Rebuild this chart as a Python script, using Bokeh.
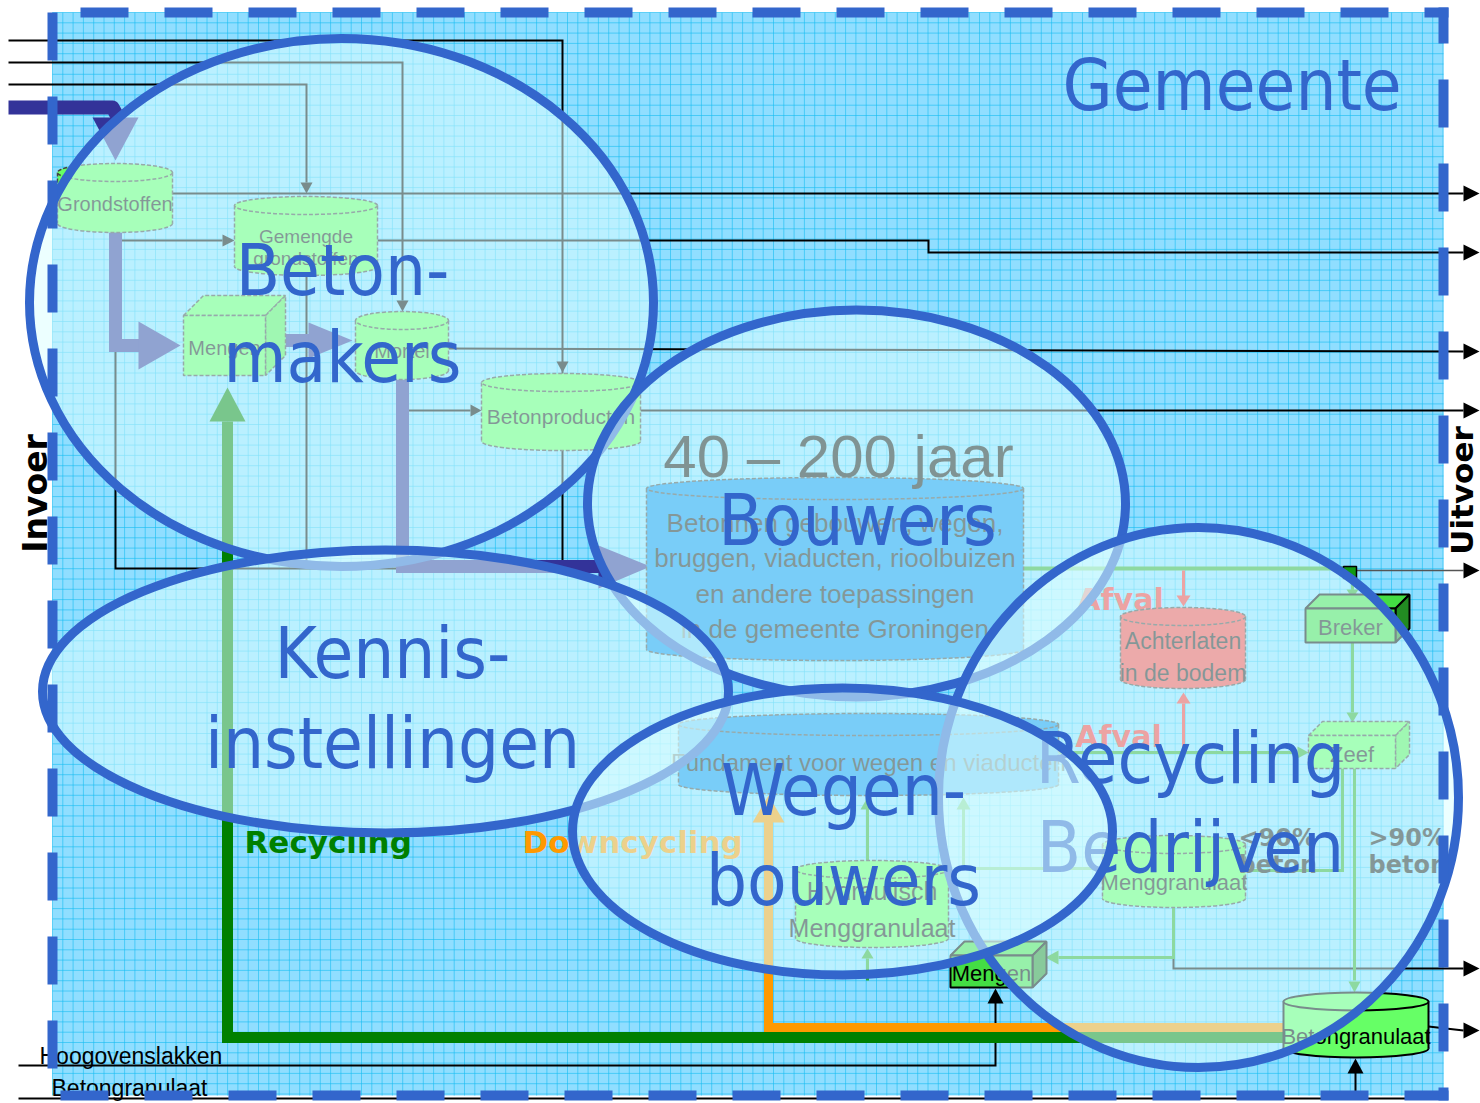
import numpy as np
from bokeh.plotting import figure
from bokeh.models import Range1d
from bokeh.core.properties import value
from bokeh.embed import file_html
from bokeh.resources import INLINE

# ---------------- content ----------------
TITLE = "Gemeente"
SIDE_LABELS = ["Invoer", "Uitvoer"]
FLOW_LABELS = ["Recycling", "Downcycling"]
INPUT_LABELS = ["Hoogovenslakken", "Betongranulaat"]
PERIOD_LABEL = "40 \u2013 200 jaar"

# actor ellipses (drawn in this order, last on top)
GROUP_LINES = [["Beton-", "makers"], ["Bouwers"], ["Kennis-", "instellingen"],
               ["Recycling", "Bedrijven"], ["Wegen-", "bouwers"]]
GROUP_CX = [341, 856, 385, 1198, 842]
GROUP_CY = [302, 503, 691, 797, 831]
GROUP_W = [624, 538, 686, 520, 540]
GROUP_H = [528, 387, 283, 540, 287]
GROUP_LABEL_X = [342, 857, 392, 1190, 843]
GROUP_LABEL_Y = [[295, 382], [545], [678, 768], [783, 872], [815, 905]]

# storage cylinders of the underlying flow diagram
CYL_LABELS = [["Grondstoffen"], ["Gemengde", "grondstoffen"], ["Mortel"], ["Betonproducten"],
              ["Betonnen gebouwen, wegen,", "bruggen, viaducten, rioolbuizen",
               "en andere toepassingen", "in de gemeente Groningen"],
              ["Fundament voor wegen en viaducten"],
              ["Achterlaten", "in de bodem"], ["Menggranulaat"],
              ["Hydraulisch", "Menggranulaat"], ["Betongranulaat"]]
CYL_X0 = [57, 234, 355, 481, 646, 678, 1120, 1102, 795, 1283]
CYL_X1 = [172, 377, 448, 640, 1023, 1058, 1245, 1245, 948, 1428]
CYL_Y0 = [163, 196, 311, 373, 477, 713, 607, 835, 860, 992]
CYL_Y1 = [232, 275, 379, 450, 660, 795, 688, 907, 947, 1057]
CYL_FILL = ["#66FF66", "#66FF66", "#66FF66", "#66FF66", "#0090F0", "#0090F0",
            "#FF4444", "#66FF66", "#66FF66", "#66FF66"]
CYL_LABEL_Y = [[203], [236, 258], [350], [416], [522, 557, 593, 628], [762],
               [640, 672], [882], [890, 927], [1036]]
CYL_LABEL_SIZE = [20, 19, 20, 21, 26, 24, 23, 22, 25, 22]

# process boxes
BOX_LABELS = ["Mengen", "Breker", "Zeef", "Mengen"]
BOX_X0 = [183, 1305, 1308, 950]
BOX_X1 = [265, 1395, 1395, 1032]
BOX_Y0 = [315, 608, 735, 955]
BOX_Y1 = [375, 642, 768, 987]

BLUE = "#3366CC"
NAVY = "#333399"
GRAYTXT = "#1A1A1A"

p = figure(width=1480, height=1103, x_range=Range1d(0, 1480), y_range=Range1d(1103, 0),
           output_backend="svg", toolbar_location=None, min_border=0)
p.axis.visible = False
p.grid.visible = False
p.outline_line_color = None
p.background_fill_color = "white"
p.border_fill_color = "white"


def txt(x, y, s, size, color, font="Liberation Sans", align="center", baseline="middle",
        bold=False, angle=0.0):
    # "alphabetic" positions are converted to a centred text (cap-height centre)
    if baseline == "alphabetic":
        y = y - 0.36 * size
    p.text(x=[x], y=[y], text=[s], text_font=value(font), text_font_size=f"{size}px",
           text_color=color, text_align=align, text_baseline="middle",
           text_font_style="bold" if bold else "normal", angle=angle)


def arrowhead(tx, ty, d, L=14, hw=7, color="black"):
    if d == "r":
        xs, ys = [tx - L, tx, tx - L], [ty - hw, ty, ty + hw]
    elif d == "l":
        xs, ys = [tx + L, tx, tx + L], [ty - hw, ty, ty + hw]
    elif d == "d":
        xs, ys = [tx - hw, tx, tx + hw], [ty - L, ty, ty - L]
    else:
        xs, ys = [tx - hw, tx, tx + hw], [ty + L, ty, ty + L]
    p.patch(xs, ys, fill_color=color, line_color=None)


def path(pts, color="black", w=2, dash="solid", alpha=1.0, join="miter"):
    p.line([a for a, _ in pts], [b for _, b in pts], line_color=color, line_width=w,
           line_dash=dash, line_alpha=alpha, line_join=join)


def cylinder(x0, x1, y0, y1, fill, lc, ry=9, dash="4 2", lw=1.5):
    cx, w = (x0 + x1) / 2, x1 - x0
    p.ellipse([cx], [y1 - ry], width=w, height=2 * ry, fill_color=fill, line_color=lc,
              line_width=lw, line_dash=dash)
    p.quad(left=[x0], right=[x1], top=[y0 + ry], bottom=[y1 - ry], fill_color=fill,
           line_color=None)
    p.segment([x0, x1], [y0 + ry, y0 + ry], [x0, x1], [y1 - ry, y1 - ry], line_color=lc,
              line_width=lw, line_dash=dash)
    p.ellipse([cx], [y0 + ry], width=w, height=2 * ry, fill_color=fill, line_color=lc,
              line_width=lw, line_dash=dash)


def box3d(x0, x1, y0, y1, d, fill, side, lc, dash="4 2", lw=1.5):
    p.patch([x0, x0 + d, x1 + d, x1], [y0, y0 - d, y0 - d, y0], fill_color=fill,
            line_color=lc, line_width=lw, line_dash=dash)
    p.patch([x1, x1 + d, x1 + d, x1], [y0, y0 - d, y1 - d, y1], fill_color=side,
            line_color=lc, line_width=lw, line_dash=dash)
    p.quad(left=[x0], right=[x1], top=[y0], bottom=[y1], fill_color=fill, line_color=lc,
           line_width=lw, line_dash=dash)


# ---------------- background sheet with grid ----------------
p.quad(left=[52], right=[1443], top=[12], bottom=[1095], fill_color="#90DEFF", line_color=None)
gx = np.arange(52, 1443, 10.3)
gy = np.arange(12, 1095, 10.3)
p.multi_line([[x, x] for x in gx], [[12, 1095]] * len(gx), line_color="#18BDF2",
             line_width=1, line_alpha=0.6)
p.multi_line([[52, 1443]] * len(gy), [[y, y] for y in gy], line_color="#18BDF2",
             line_width=1, line_alpha=0.6)

# ---------------- black input / output connections ----------------
path([(8, 40), (562, 40), (562, 568)])
path([(8, 62), (402, 62), (402, 300)])
arrowhead(402, 311, "d", 11, 6)
path([(8, 84), (306, 84), (306, 182)])
arrowhead(306, 193, "d", 11, 6)
arrowhead(562, 372, "d", 11, 6)
path([(118, 193), (1463, 193)])
arrowhead(1479, 193, "r", 16, 8)
path([(118, 240), (222, 240)])
arrowhead(234, 240, "r", 12, 6)
path([(377, 240), (928, 240), (928, 252), (1463, 252)])
arrowhead(1479, 252, "r", 16, 8)
path([(448, 348), (1463, 351)])
arrowhead(1479, 351, "r", 16, 8)
path([(402, 410), (470, 410)])
arrowhead(481, 410, "r", 11, 6)
path([(640, 410), (1463, 410)])
arrowhead(1479, 410, "r", 16, 8)
path([(115, 232), (115, 568), (600, 568)])
path([(306, 275), (306, 568)])
path([(1356, 570), (1463, 570)], color="#555555", w=1.5)
arrowhead(1479, 570, "r", 16, 8)
path([(1173, 907), (1173, 968), (1463, 968)])
arrowhead(1479, 968, "r", 16, 8)
path([(1428, 1026), (1463, 1030)])
arrowhead(1479, 1030, "r", 16, 8)
path([(18, 1065), (995, 1065), (995, 1002)])
arrowhead(995, 988, "u", 15, 8)
path([(18, 1098), (1440, 1098)])
path([(1355, 1098), (1355, 1072)])
arrowhead(1355, 1058, "u", 15, 8)

# ---------------- navy material flow ----------------
path([(8, 107), (112, 107), (117, 116)], color=NAVY, w=14, join="round")
p.patch([92, 138, 115], [117, 117, 160], fill_color=NAVY, line_color=None)
path([(115, 232), (115, 345), (140, 345)], color=NAVY, w=13)
p.patch([138, 138, 180], [321, 369, 345], fill_color=NAVY, line_color=None)
path([(285, 340), (310, 340)], color=NAVY, w=13)
p.patch([308, 308, 352], [322, 358, 340], fill_color=NAVY, line_color=None)
path([(402, 379), (402, 566), (600, 566)], color=NAVY, w=13)
p.patch([598, 598, 650], [545, 588, 566], fill_color=NAVY, line_color=None)

# ---------------- recycling (green) and downcycling (orange) ----------------
path([(227, 421), (227, 1037), (1283, 1037)], color="#008000", w=11)
p.patch([209, 245, 227], [421, 421, 387], fill_color="#008000", line_color=None)
path([(768, 820), (768, 1027), (1283, 1027)], color="#FF9900", w=9)
p.patch([752, 784, 768], [822, 822, 795], fill_color="#FF9900", line_color=None)

# thin green flows inside the recycling plant
G = "#2EAA2E"
path([(1023, 568), (1352, 568)], color=G, w=4)
path([(1352, 568), (1352, 590)], color=G, w=3)
arrowhead(1352, 598, "d", 9, 6, G)
path([(1352, 642), (1352, 712)], color=G, w=3)
arrowhead(1352, 722, "d", 10, 6, G)
path([(1354, 768), (1354, 980)], color=G, w=3)
arrowhead(1354, 992, "d", 11, 6, G)
path([(1342, 768), (1342, 870), (1245, 870)], color=G, w=3)
path([(1058, 752), (1296, 752)], color=G, w=3)
arrowhead(1308, 752, "r", 11, 6, G)
path([(1173, 907), (1173, 957), (1058, 957)], color=G, w=3)
arrowhead(1045, 957, "l", 13, 7, G)
path([(867, 980), (867, 958)], color=G, w=3)
arrowhead(867, 948, "u", 10, 6, G)
path([(867, 860), (867, 808)], color=G, w=3)
arrowhead(867, 797, "u", 12, 7, G)
path([(1102, 868), (963, 868), (963, 808)], color=G, w=3)
arrowhead(963, 797, "u", 12, 7, G)

# red waste flows
R = "#FF3333"
path([(1183, 570), (1183, 596)], color=R, w=3)
arrowhead(1183, 606, "d", 11, 7, R)
path([(1183, 752), (1183, 703)], color=R, w=3)
arrowhead(1183, 692, "u", 11, 7, R)
txt(1120, 610, "Afval", 30, R, font="DejaVu Sans", bold=True, baseline="alphabetic")
txt(1118, 747, "Afval", 30, R, font="DejaVu Sans", bold=True, baseline="alphabetic")

# ---------------- storages and process boxes ----------------
for i in range(len(CYL_LABELS)):
    last = i == len(CYL_LABELS) - 1
    cylinder(CYL_X0[i], CYL_X1[i], CYL_Y0[i], CYL_Y1[i], CYL_FILL[i],
             "black" if last else "#444444", ry=9 if i not in (4, 5) else 11,
             dash="solid" if last else "4 2", lw=2 if last else 1.5)
    for line_txt, ly in zip(CYL_LABELS[i], CYL_LABEL_Y[i]):
        txt((CYL_X0[i] + CYL_X1[i]) / 2, ly, line_txt, CYL_LABEL_SIZE[i],
            "black" if last else GRAYTXT)

for i in range(len(BOX_LABELS)):
    outside = i in (1, 3)
    d = 20 if i == 0 else 14
    box3d(BOX_X0[i], BOX_X1[i], BOX_Y0[i], BOX_Y1[i], d,
          "#44DD44" if outside else "#66FF66", "#228B22" if outside else "#55EE55",
          "black" if outside else "#444444", dash="solid" if outside else "4 2",
          lw=2 if outside else 1.5)
    txt((BOX_X0[i] + BOX_X1[i]) / 2, (BOX_Y0[i] + BOX_Y1[i]) / 2 + 2, BOX_LABELS[i],
        22 if i != 0 else 20, "black" if i == 3 else GRAYTXT)
p.quad(left=[1343], right=[1356], top=[566], bottom=[578], fill_color="#119911",
       line_color="black", line_width=1.5)

txt(838, 478, PERIOD_LABEL, 60, "#111111", baseline="alphabetic")
for lx, lab in ((1368, ">90%"), (1238, "<90%")):
    txt(lx, 846, lab, 24, GRAYTXT, font="DejaVu Sans", bold=True, align="left",
        baseline="alphabetic")
    txt(lx, 873, "beton", 24, GRAYTXT, font="DejaVu Sans", bold=True, align="left",
        baseline="alphabetic")

txt(244, 853, FLOW_LABELS[0], 31, "#008000", font="DejaVu Sans", bold=True, align="left",
    baseline="alphabetic")
txt(522, 853, FLOW_LABELS[1], 31, "#FF9900", font="DejaVu Sans", bold=True, align="left",
    baseline="alphabetic")
txt(39, 1064, INPUT_LABELS[0], 23, "black", align="left", baseline="alphabetic")
txt(51, 1096, INPUT_LABELS[1], 23, "black", align="left", baseline="alphabetic")

# ---------------- actor ellipses ----------------
for i in range(len(GROUP_LINES)):
    p.ellipse([GROUP_CX[i]], [GROUP_CY[i]], width=GROUP_W[i], height=GROUP_H[i],
              fill_color="#DDFFFF", fill_alpha=0.55, line_color=BLUE, line_width=9)
    for line_txt, ly in zip(GROUP_LINES[i], GROUP_LABEL_Y[i]):
        txt(GROUP_LABEL_X[i], ly, line_txt, 72, BLUE, font="DejaVu Sans Condensed",
            baseline="alphabetic")

txt(1062, 110, TITLE, 72, BLUE, font="DejaVu Sans Condensed", align="left",
    baseline="alphabetic")

# ---------------- dashed boundary of the municipality ----------------
def dash_segments(start, end, phase, dash=48, period=84):
    s = phase - period * np.ceil((phase - start) / period)
    out = []
    while s < end:
        a, b = max(s, start), min(s + dash, end)
        if b > a:
            out.append((a, b))
        s += period
    return out

segs = []
for a, b in dash_segments(47, 1448, 80):
    segs.append((a, 12, b, 12))
for a, b in dash_segments(47, 1448, 60):
    segs.append((a, 1095, b, 1095))
for a, b in dash_segments(7, 1100, 12):
    segs.append((52, a, 52, b))
for a, b in dash_segments(7, 1100, 79):
    segs.append((1443, a, 1443, b))
p.segment([s[0] for s in segs], [s[1] for s in segs], [s[2] for s in segs],
          [s[3] for s in segs], line_color=BLUE, line_width=10, line_cap="butt")

txt(35, 493, SIDE_LABELS[0], 33, "black", font="DejaVu Sans", bold=True, angle=np.pi / 2)
txt(1461, 490, SIDE_LABELS[1], 31, "black", font="DejaVu Sans", bold=True, angle=np.pi / 2)

open("out.html", "w").write(file_html(p, INLINE))
